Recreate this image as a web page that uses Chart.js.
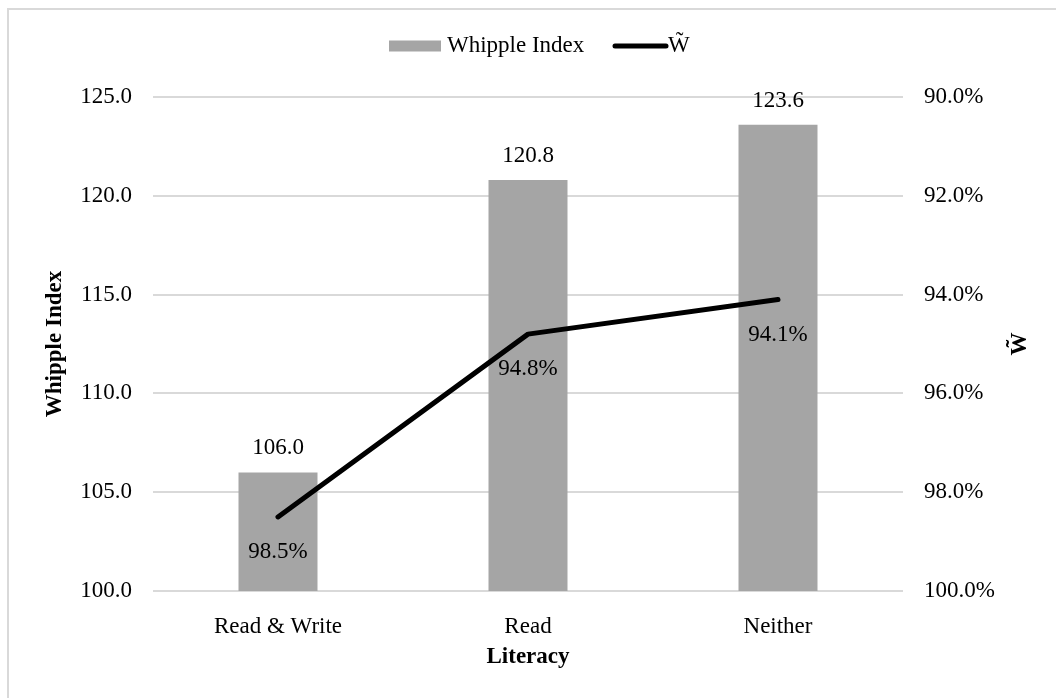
<!DOCTYPE html>
<html>
<head>
<meta charset="utf-8">
<title>Whipple Index by Literacy</title>
<script src="https://cdn.jsdelivr.net/npm/chart.js@4/dist/chart.umd.min.js"></script>
<style>
  html, body { margin: 0; padding: 0; background: #ffffff; }
  #wrap { position: relative; width: 1056px; height: 698px; }
</style>
</head>
<body>
<div id="wrap"><canvas id="chart"></canvas></div>
<script>
// Literacy groups and their age-heaping measures
const categories = ['Read & Write', 'Read', 'Neither'];
const whippleIndex = [106.0, 120.8, 123.6];
const wTilde = [98.5, 94.8, 94.1];

const FONT = '"Liberation Serif", "Times New Roman", serif';
const TEXT = '#000000';
const GRID = '#d9d9d9';
const BAR = '#a5a5a5';

// Thin frame along the top and left edges
const framePlugin = {
  id: 'frame',
  beforeDraw(chart) {
    const ctx = chart.ctx;
    ctx.save();
    ctx.fillStyle = '#ffffff';
    ctx.fillRect(0, 0, chart.width, chart.height);
    ctx.strokeStyle = GRID;
    ctx.lineWidth = 2;
    ctx.beginPath();
    ctx.moveTo(8, chart.height);
    ctx.lineTo(8, 9);
    ctx.lineTo(chart.width, 9);
    ctx.stroke();
    ctx.restore();
  }
};

// Value labels: above the bars, below the line points
const labelPlugin = {
  id: 'valueLabels',
  afterDatasetsDraw(chart) {
    const ctx = chart.ctx;
    ctx.save();
    ctx.font = '23px ' + FONT;
    ctx.fillStyle = TEXT;
    ctx.textAlign = 'center';
    ctx.textBaseline = 'middle';
    chart.getDatasetMeta(1).data.forEach((el, i) => {
      ctx.fillText(whippleIndex[i].toFixed(1), el.x, el.y - 24);
    });
    chart.getDatasetMeta(0).data.forEach((el, i) => {
      ctx.fillText(wTilde[i].toFixed(1) + '%', el.x, el.y + 35);
    });
    ctx.restore();
  }
};

// Legend row and the right-hand axis title (read bottom to top)
const legendPlugin = {
  id: 'legendRow',
  afterDraw(chart) {
    const ctx = chart.ctx;
    const area = chart.chartArea;
    ctx.save();
    ctx.font = '23px ' + FONT;
    ctx.fillStyle = TEXT;
    ctx.textBaseline = 'middle';
    ctx.textAlign = 'left';
    const ly = 46;
    ctx.fillStyle = BAR;
    ctx.fillRect(389, ly - 5.5, 52, 11);
    ctx.fillStyle = TEXT;
    ctx.fillText('Whipple Index', 447, ly);
    ctx.strokeStyle = '#000000';
    ctx.lineWidth = 5;
    ctx.lineCap = 'round';
    ctx.beginPath();
    ctx.moveTo(615, ly);
    ctx.lineTo(666, ly);
    ctx.stroke();
    ctx.fillText('W\u0303', 668, ly);

    ctx.translate(1020, (area.top + area.bottom) / 2);
    ctx.rotate(-Math.PI / 2);
    ctx.font = 'bold 23px ' + FONT;
    ctx.textAlign = 'center';
    ctx.fillText('W\u0303', 0, 0);
    ctx.restore();
  }
};

new Chart(document.getElementById('chart'), {
  data: {
    labels: categories,
    datasets: [
      {
        type: 'line',
        label: 'W\u0303',
        data: wTilde,
        yAxisID: 'y2',
        borderColor: '#000000',
        borderWidth: 5,
        borderCapStyle: 'round',
        borderJoinStyle: 'round',
        pointRadius: 0,
        tension: 0,
        order: 0
      },
      {
        type: 'bar',
        label: 'Whipple Index',
        data: whippleIndex,
        yAxisID: 'y',
        backgroundColor: BAR,
        categoryPercentage: 1,
        barPercentage: 0.316,
        order: 1
      }
    ]
  },
  options: {
    responsive: true,
    maintainAspectRatio: false,
    animation: false,
    layout: { padding: { top: 97, left: 0, right: 0, bottom: 0 } },
    plugins: {
      legend: { display: false },
      tooltip: { enabled: false }
    },
    scales: {
      x: {
        offset: true,
        grid: { display: false },
        border: { display: false },
        ticks: { color: TEXT, font: { family: FONT, size: 23 }, padding: 14 },
        title: {
          display: true,
          text: 'Literacy',
          color: TEXT,
          font: { family: FONT, size: 23, weight: 'bold' },
          padding: { top: 0, bottom: 27 }
        },
        afterFit(scale) { scale.height = 107; }
      },
      y: {
        position: 'left',
        min: 100,
        max: 125,
        ticks: {
          stepSize: 5,
          color: TEXT,
          font: { family: FONT, size: 23 },
          padding: 21,
          callback: (v) => Number(v).toFixed(1)
        },
        grid: { color: GRID, lineWidth: 2, drawTicks: false },
        border: { display: false },
        title: {
          display: true,
          text: 'Whipple Index',
          color: TEXT,
          font: { family: FONT, size: 23, weight: 'bold' },
          padding: { top: 41, bottom: 0 }
        },
        afterFit(scale) { scale.width = 153; }
      },
      y2: {
        position: 'right',
        reverse: true,
        min: 90,
        max: 100,
        ticks: {
          stepSize: 2,
          color: TEXT,
          font: { family: FONT, size: 23 },
          padding: 21,
          callback: (v) => Number(v).toFixed(1) + '%'
        },
        grid: { drawOnChartArea: false, drawTicks: false },
        border: { display: false },
        afterFit(scale) { scale.width = 153; }
      }
    }
  },
  plugins: [framePlugin, labelPlugin, legendPlugin]
});
</script>
</body>
</html>
